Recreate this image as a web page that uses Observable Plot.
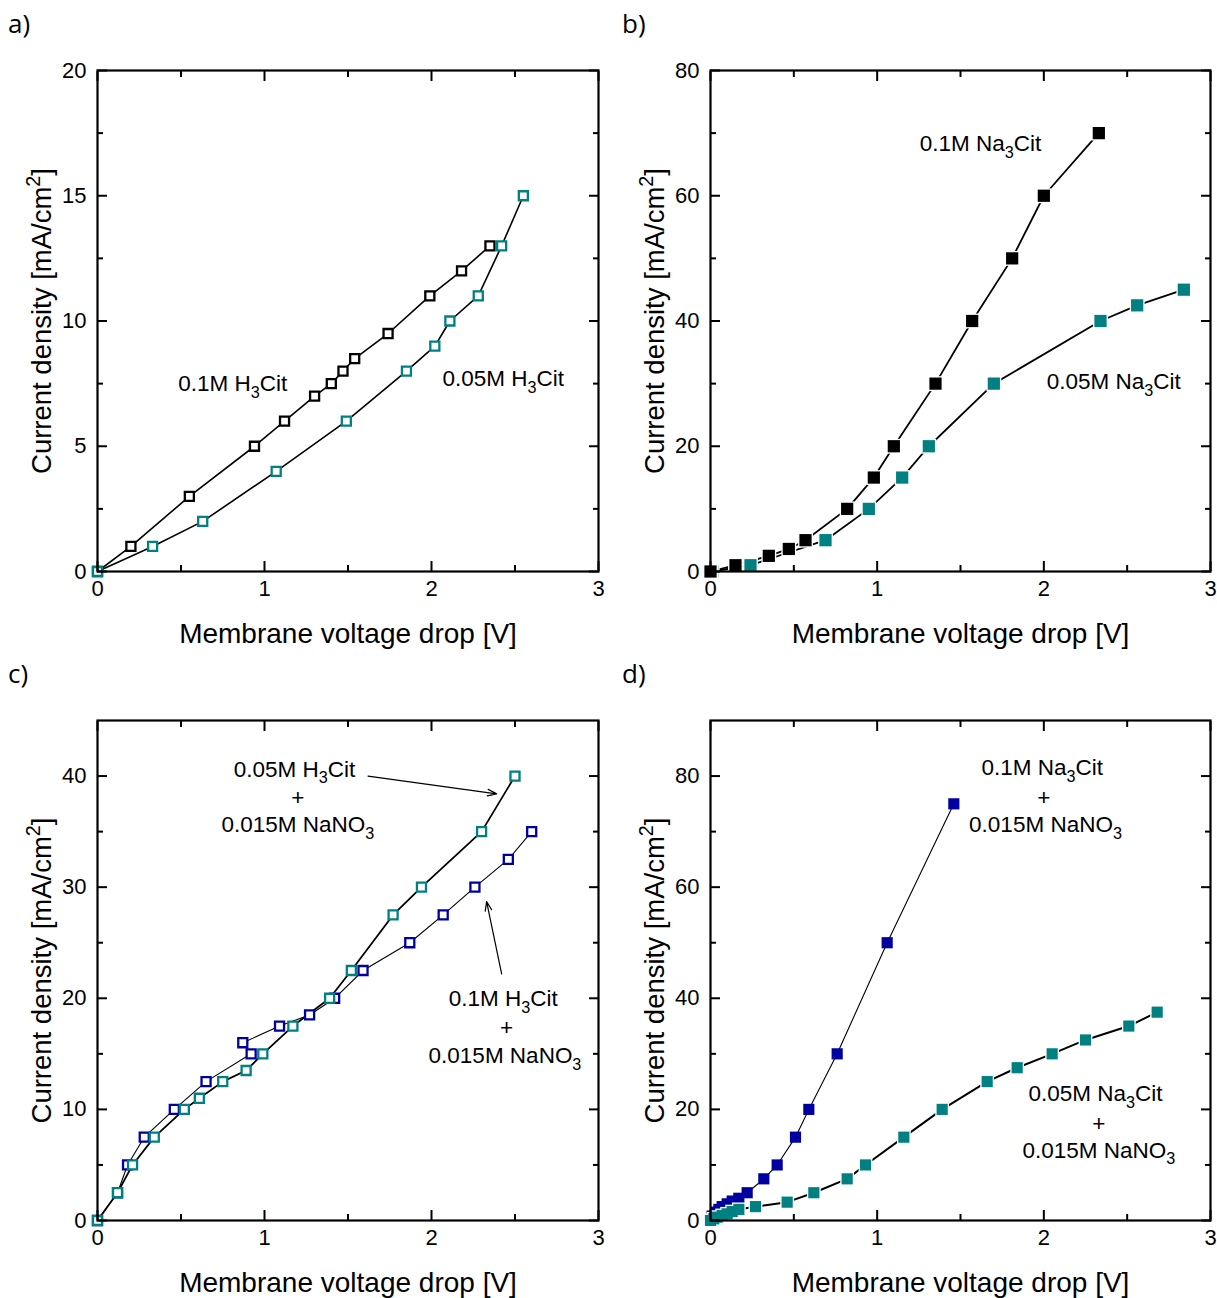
<!DOCTYPE html>
<html><head><meta charset="utf-8">
<script src="https://cdn.jsdelivr.net/npm/d3@7"></script>
<script src="https://cdn.jsdelivr.net/npm/@observablehq/plot@0.6"></script>
<style>
body{margin:0;background:#fff;}
#wrap{position:relative;width:1217px;height:1298px;background:#fff;overflow:hidden;}
.panel{position:absolute;}
.letter{position:absolute;font-size:26px;font-family:"Open Sans","Liberation Sans",sans-serif;color:#000;line-height:1;}
</style></head><body><div id="wrap"></div>
<script>
const FONT = 'Liberation Sans, Arial, sans-serif';
const TEAL = "#008080", BLUE = "#0000a0";

// ---- Panel a: H3Cit (open squares) ----
const aBlackV = [0, 0.20, 0.55, 0.94, 1.12, 1.30, 1.40, 1.47, 1.54, 1.74, 1.99, 2.18, 2.35];
const aBlackJ = [0, 1, 3, 5, 6, 7, 7.5, 8, 8.5, 9.5, 11, 12, 13];
const aTealV = [0, 0.33, 0.63, 1.07, 1.49, 1.85, 2.02, 2.11, 2.28, 2.42, 2.55];
const aTealJ = [0, 1, 2, 4, 6, 8, 9, 10, 11, 13, 15];

// ---- Panel b: Na3Cit (filled squares) ----
const bBlackV = [0, 0.15, 0.35, 0.47, 0.57, 0.82, 0.98, 1.10, 1.35, 1.57, 1.81, 2.00, 2.33];
const bBlackJ = [0, 1, 2.5, 3.6, 5, 10, 15, 20, 30, 40, 50, 60, 70];
const bTealV = [0.01, 0.24, 0.69, 0.95, 1.15, 1.31, 1.70, 2.34, 2.56, 2.84];
const bTealJ = [0, 1, 5, 10, 15, 20, 30, 40, 42.5, 45];

// ---- Panel c: H3Cit + NaNO3 (open squares) ----
const cTealV = [0, 0.12, 0.21, 0.34, 0.52, 0.61, 0.75, 0.89, 0.99, 1.17, 1.39, 1.52, 1.77, 1.94, 2.30, 2.50];
const cTealJ = [0, 2.5, 5, 7.5, 10, 11, 12.5, 13.5, 15, 17.5, 20, 22.5, 27.5, 30, 35, 40];
const cBlueV = [0, 0.12, 0.18, 0.28, 0.46, 0.65, 0.92, 0.87, 1.09, 1.27, 1.42, 1.59, 1.87, 2.07, 2.26, 2.46, 2.60];
const cBlueJ = [0, 2.5, 5, 7.5, 10, 12.5, 15, 16, 17.5, 18.5, 20, 22.5, 25, 27.5, 30, 32.5, 35];

// ---- Panel d: Na3Cit + NaNO3 (filled squares) ----
const dBlueV = [0, 0.01, 0.03, 0.05, 0.07, 0.10, 0.13, 0.17, 0.22, 0.32, 0.40, 0.51, 0.59, 0.76, 1.06, 1.46];
const dBlueJ = [0, 0.8, 1.5, 2, 2.5, 3, 3.5, 4, 5, 7.5, 10, 15, 20, 30, 50, 75];
const dTealV = [0, 0.02, 0.04, 0.07, 0.10, 0.13, 0.17, 0.27, 0.46, 0.62, 0.82, 0.93, 1.16, 1.39, 1.66, 1.84, 2.05, 2.25, 2.51, 2.68];
const dTealJ = [0, 0.3, 0.6, 0.9, 1.2, 1.6, 2, 2.5, 3.3, 5, 7.5, 10, 15, 20, 25, 27.5, 30, 32.5, 35, 37.5];

// tick values
const xMajor = [0, 1, 2, 3];
const xMinor = [0.5, 1.5, 2.5];
const aYMajor = [0, 5, 10, 15, 20], aYMinor = [2.5, 7.5, 12.5, 17.5];
const bYMajor = [0, 20, 40, 60, 80], bYMinor = [10, 30, 50, 70];
const cYMajor = [0, 10, 20, 30, 40], cYMinor = [5, 15, 25, 35];
const dYMajor = [0, 20, 40, 60, 80], dYMinor = [10, 30, 50, 70];

// text
const xLabel = "Membrane voltage drop [V]";
const yLabel = "Current density [mA/cm^2]";
const aLabels = [{v: 0.81, j: 7.5, t: "0.1M H_3Cit"}, {v: 2.43, j: 7.7, t: "0.05M H_3Cit"}];
const bLabels = [{v: 1.62, j: 68.3, t: "0.1M Na_3Cit"}, {v: 2.42, j: 30.3, t: "0.05M Na_3Cit"}];
const cLabels = [
  {v: 1.18, j: 40.6, t: "0.05M H_3Cit"}, {v: 1.2, j: 38.0, t: "+"}, {v: 1.2, j: 35.6, t: "0.015M NaNO_3"},
  {v: 2.43, j: 19.95, t: "0.1M H_3Cit"}, {v: 2.45, j: 17.3, t: "+"}, {v: 2.44, j: 14.8, t: "0.015M NaNO_3"}
];
const cArrows = [
  {v1: 1.62, j1: 40.0, v2: 2.39, j2: 38.4},
  {v1: 2.42, j1: 22.2, v2: 2.33, j2: 28.7}
];
const dLabels = [
  {v: 1.99, j: 81.4, t: "0.1M Na_3Cit"}, {v: 2.0, j: 76.0, t: "+"}, {v: 2.01, j: 71.2, t: "0.015M NaNO_3"},
  {v: 2.31, j: 22.8, t: "0.05M Na_3Cit"}, {v: 2.33, j: 17.4, t: "+"}, {v: 2.33, j: 12.6, t: "0.015M NaNO_3"}
];

const zip = (V, J) => V.map((v, i) => ({v, j: J[i]}));
const intFmt = d3.format("d");

function axes(yMajor, yMinor) {
  const common = {label: null, strokeWidth: 2};
  const blank = () => "";
  return [
    Plot.axisX({...common, anchor: "bottom", ticks: xMajor, tickSize: 0, tickPadding: 9, fontSize: 22, tickFormat: intFmt}),
    Plot.axisX({...common, anchor: "bottom", ticks: xMajor, tickSize: -10, tickFormat: blank}),
    Plot.axisX({...common, anchor: "bottom", ticks: xMinor, tickSize: -6, tickFormat: blank}),
    Plot.axisX({...common, anchor: "top", ticks: xMajor, tickSize: -10, tickFormat: blank}),
    Plot.axisX({...common, anchor: "top", ticks: xMinor, tickSize: -6, tickFormat: blank}),
    Plot.axisY({...common, anchor: "left", ticks: yMajor, tickSize: 0, tickPadding: 11, fontSize: 22, tickFormat: intFmt}),
    Plot.axisY({...common, anchor: "left", ticks: yMajor, tickSize: -10, tickFormat: blank}),
    Plot.axisY({...common, anchor: "left", ticks: yMinor, tickSize: -6, tickFormat: blank}),
    Plot.axisY({...common, anchor: "right", ticks: yMajor, tickSize: -10, tickFormat: blank}),
    Plot.axisY({...common, anchor: "right", ticks: yMinor, tickSize: -6, tickFormat: blank}),
    Plot.frame({stroke: "#000", strokeWidth: 2.2}),
    Plot.text([xLabel], {text: d => d, frameAnchor: "bottom", dy: 63, fontSize: 28, textAnchor: "middle", lineAnchor: "middle", fontFamily: FONT}),
    Plot.text([yLabel], {text: d => d, frameAnchor: "left", dx: -55, rotate: -90, fontSize: 27.5, textAnchor: "middle", lineAnchor: "middle", fontFamily: FONT})
  ];
}

function labelMarks(labels) {
  return Plot.text(labels, {x: "v", y: "j", text: "t", fontSize: 22.5, fontFamily: FONT, textAnchor: "middle", lineAnchor: "middle", fill: "#000"});
}

function richify(svg) {
  svg.querySelectorAll("text").forEach(t => {
    const targets = t.querySelector("tspan") ? Array.from(t.querySelectorAll("tspan")) : [t];
    targets.forEach(el => {
      const s = el.textContent;
      if (!/[_^]\d/.test(s)) return;
      const fs = parseFloat(getComputedStyle(el).fontSize) || 22;
      const parts = s.split(/([_^]\d)/).filter(p => p !== "");
      el.textContent = "";
      let shift = 0;
      parts.forEach(p => {
        const ts = document.createElementNS("http://www.w3.org/2000/svg", "tspan");
        let target = 0;
        if (/^[_^]\d$/.test(p)) {
          target = p[0] === "_" ? fs * 0.3 : -fs * 0.4;
          ts.textContent = p[1];
          ts.setAttribute("font-size", (fs * 0.72).toFixed(1));
        } else {
          ts.textContent = p;
        }
        const dy = target - shift;
        if (dy !== 0) ts.setAttribute("dy", dy.toFixed(2));
        shift = target;
        el.appendChild(ts);
      });
    });
  });
}

function panel({left, top, width, height, mt, mb, ml, mr, yDomain, yMajor, yMinor, marks, letter}) {
  const p = Plot.plot({
    width, height, marginTop: mt, marginBottom: mb, marginLeft: ml, marginRight: mr,
    x: {domain: [0, 3], label: null},
    y: {domain: yDomain, label: null},
    style: {fontFamily: FONT, fontSize: "22px", color: "#000", background: "transparent", overflow: "visible"},
    marks: [...marks, ...axes(yMajor, yMinor)]
  });
  const div = document.createElement("div");
  div.className = "panel";
  div.style.left = left + "px";
  div.style.top = top + "px";
  div.appendChild(p);
  document.getElementById("wrap").appendChild(div);
  richify(p);
  const l = document.createElement("div");
  l.className = "letter";
  l.textContent = letter.t;
  l.style.left = letter.x + "px";
  l.style.top = letter.y + "px";
  document.getElementById("wrap").appendChild(l);
}

const openDot = (data, color) => Plot.dot(data, {x: "v", y: "j", symbol: "square", r: 5.1, stroke: color, fill: "#fff", strokeWidth: 2.3});
const haloDot = (data, r) => Plot.dot(data, {x: "v", y: "j", symbol: "square", r, fill: "#fff"});
const fillDot = (data, color, r) => Plot.dot(data, {x: "v", y: "j", symbol: "square", r, fill: color});
const line = (data, w) => Plot.line(data, {x: "v", y: "j", stroke: "#000", strokeWidth: w});

// a
const aB = zip(aBlackV, aBlackJ), aT = zip(aTealV, aTealJ);
panel({left: 0, top: 0, width: 608, height: 655, mt: 70, mb: 84, ml: 97, mr: 10,
  yDomain: [0, 20], yMajor: aYMajor, yMinor: aYMinor, letter: {t: "a)", x: 8, y: 10},
  marks: [line(aB, 1.6), line(aT, 1.6), openDot(aB, "#000"), openDot(aT, TEAL), labelMarks(aLabels)]});

// b
const bB = zip(bBlackV, bBlackJ), bT = zip(bTealV, bTealJ);
panel({left: 613, top: 0, width: 604, height: 655, mt: 70, mb: 84, ml: 97, mr: 7,
  yDomain: [0, 80], yMajor: bYMajor, yMinor: bYMinor, letter: {t: "b)", x: 622, y: 10},
  marks: [line(bB, 1.8), line(bT, 1.8), haloDot(bT, 8.4), fillDot(bT, TEAL, 6.9), haloDot(bB, 8.4), fillDot(bB, "#000", 6.9), labelMarks(bLabels)]});

// c
const cT = zip(cTealV, cTealJ), cBl = zip(cBlueV, cBlueJ);
panel({left: 0, top: 650, width: 608, height: 648, mt: 70, mb: 78, ml: 97, mr: 10,
  yDomain: [0, 45], yMajor: cYMajor, yMinor: cYMinor, letter: {t: "c)", x: 8, y: 660},
  marks: [line(cBl, 1.1), line(cT, 1.8), openDot(cBl, BLUE), openDot(cT, TEAL), labelMarks(cLabels),
    Plot.arrow(cArrows, {x1: "v1", y1: "j1", x2: "v2", y2: "j2", stroke: "#000", strokeWidth: 1.2, headLength: 12, headAngle: 40})]});

// d
const dT = zip(dTealV, dTealJ), dBl = zip(dBlueV, dBlueJ);
panel({left: 613, top: 650, width: 604, height: 648, mt: 70, mb: 78, ml: 97, mr: 7,
  yDomain: [0, 90], yMajor: dYMajor, yMinor: dYMinor, letter: {t: "d)", x: 622, y: 660},
  marks: [line(dBl, 1.1), line(dT, 2), fillDot(dBl, BLUE, 6.3), haloDot(dT, 7.8), fillDot(dT, TEAL, 6.3), labelMarks(dLabels)]});
</script></body></html>
